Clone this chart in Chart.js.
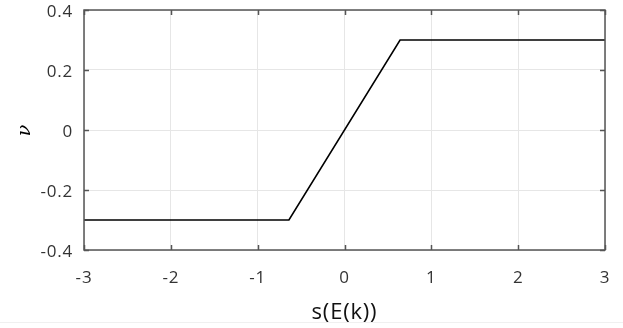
<!DOCTYPE html>
<html>
<head>
<meta charset="utf-8">
<script src="https://cdn.jsdelivr.net/npm/chart.js@4/dist/chart.umd.min.js"></script>
<style>
  html, body { margin: 0; padding: 0; background: #fff; }
  #wrap { position: relative; width: 623px; height: 328px; }
  #edge { position: absolute; left: 0; right: 0; top: 322px; height: 1px; background: #f0f0f0; }
</style>
</head>
<body>
<div id="wrap">
  <canvas id="satChart" width="623" height="328"></canvas>
  <div id="edge"></div>
</div>
<script>
// saturation curve: flat at -0.3, linear through 0, flat at 0.3
const xValues = [-3, -0.64, 0.64, 3];
const yValues = [-0.3, -0.3, 0.3, 0.3];
const xTicks = [-3, -2, -1, 0, 1, 2, 3];
const yTicks = [-0.4, -0.2, 0, 0.2, 0.4];

const axisColor = '#555555';
const tickFont = { family: 'Open Sans', size: 17 };

// box around the plot plus inward tick marks on all four sides
const boxTicks = {
  id: 'boxTicks',
  beforeDraw(chart) {
    chart.ctx.letterSpacing = '0.8px';
  },
  afterDraw(chart) {
    const c = chart.ctx;
    const a = chart.chartArea;
    const xs = chart.scales.x;
    const ys = chart.scales.y;
    const len = 5;
    c.save();
    c.strokeStyle = axisColor;
    c.lineWidth = 1.5;
    c.beginPath();
    xTicks.forEach(v => {
      const px = Math.round(xs.getPixelForValue(v)) + 0.5;
      c.moveTo(px, a.bottom); c.lineTo(px, a.bottom - len);
      c.moveTo(px, a.top); c.lineTo(px, a.top + len);
    });
    yTicks.forEach(v => {
      const py = Math.round(ys.getPixelForValue(v)) + 0.5;
      c.moveTo(a.left, py); c.lineTo(a.left + len, py);
      c.moveTo(a.right, py); c.lineTo(a.right - len, py);
    });
    c.stroke();
    c.strokeRect(a.left, a.top, a.right - a.left, a.bottom - a.top);
    c.restore();
  }
};

const ctx = document.getElementById('satChart').getContext('2d');
new Chart(ctx, {
  type: 'scatter',
  data: {
    datasets: [{
      data: xValues.map((x, i) => ({ x: x, y: yValues[i] })),
      showLine: true,
      borderColor: '#000',
      borderWidth: 1.6,
      pointRadius: 0,
      tension: 0
    }]
  },
  options: {
    responsive: false,
    animation: false,
    layout: { padding: { top: 10, right: 18, left: 0, bottom: 0 } },
    plugins: { legend: { display: false }, tooltip: { enabled: false } },
    scales: {
      x: {
        type: 'linear',
        min: -3, max: 3,
        afterBuildTicks: s => { s.ticks = xTicks.map(v => ({ value: v })); },
        afterFit: s => { s.height = 78; s.paddingLeft = 0; s.paddingRight = 0; },
        grid: { color: '#e6e6e6', lineWidth: 1, drawTicks: false },
        border: { display: false },
        ticks: { font: tickFont, color: '#333', padding: 18 },
        title: {
          display: true,
          text: 's(E(k))',
          font: { family: 'Open Sans', size: 22 },
          color: '#111',
          padding: { top: 4, bottom: 2 }
        }
      },
      y: {
        type: 'linear',
        min: -0.4, max: 0.4,
        afterBuildTicks: s => { s.ticks = yTicks.map(v => ({ value: v })); },
        afterFit: s => { s.width = 84; s.paddingTop = 0; s.paddingBottom = 0; },
        grid: { color: '#e6e6e6', lineWidth: 1, drawTicks: false },
        border: { display: false },
        ticks: {
          font: tickFont, color: '#333', padding: 11, labelOffset: 2,
          callback: v => (Math.abs(v) < 1e-9 ? '0' : String(Math.round(v * 10) / 10))
        },
        title: {
          display: true,
          text: 'ν',
          font: { family: 'DejaVu Serif', size: 19, style: 'italic' },
          color: '#000',
          padding: { top: 14, bottom: 0 }
        }
      }
    }
  },
  plugins: [boxTicks]
});
</script>
</body>
</html>
